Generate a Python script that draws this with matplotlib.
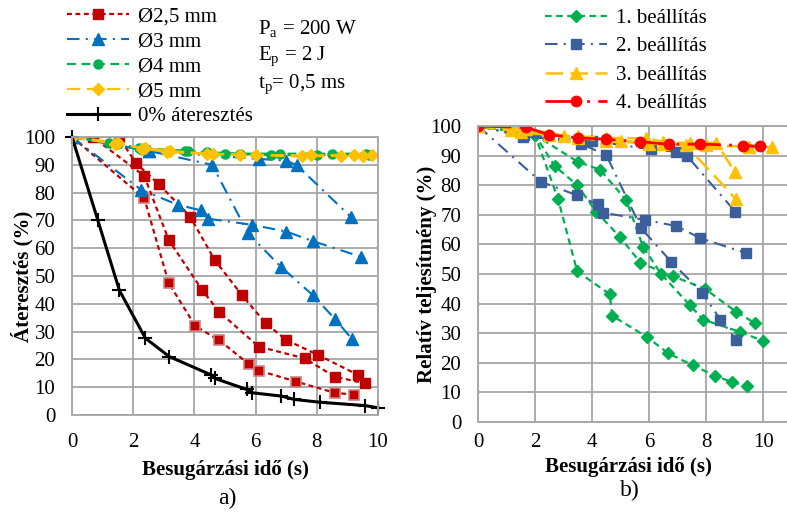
import matplotlib
matplotlib.use("Agg")
import matplotlib.pyplot as plt
from matplotlib.lines import Line2D

plt.rcParams['font.family'] = 'serif'
plt.rcParams['font.serif'] = ['Liberation Serif', 'DejaVu Serif']
plt.rcParams['mathtext.fontset'] = 'custom'
plt.rcParams['mathtext.rm'] = 'Liberation Serif'

# ---- a) left panel data ----
red_a_x = [0, 1.53, 2.09, 2.84, 3.86, 4.66, 5.56, 6.33, 7.0, 8.04, 9.35]
red_a_y = [100, 100, 90.6, 83, 71.4, 55.8, 43, 33, 27, 21.6, 14.4]
red_b_x = [0, 0.68, 2.36, 3.16, 4.25, 4.82, 6.1, 7.6, 8.58, 9.56]
red_b_y = [100, 100, 86, 63, 45, 37, 24.6, 20.4, 13.8, 11.4]
red_c_x = [0, 2.36, 3.16, 4.03, 4.82, 5.77, 6.1, 7.33, 8.58, 9.23]
red_c_y = [100, 78, 47.5, 32, 26.8, 18.4, 16, 12, 8, 7.3]

blue_a_x = [0, 2.26, 3.46, 4.22, 4.46, 5.89, 7.0, 7.88, 9.45]
blue_a_y = [100, 81, 75.6, 73.6, 70.6, 68.4, 66, 62.5, 56.9]
blue_b_x = [0, 2.5, 4.58, 5.75, 6.82, 7.88, 8.58, 9.16]
blue_b_y = [100, 95, 90, 65.4, 53.4, 43, 34.7, 27.2]
blue_c_x = [0, 2.5, 6.1, 7.0, 7.35, 9.13]
blue_c_y = [100, 95, 92.1, 91.5, 89.8, 71.1]

green_a_x = [0, 1.2, 2.3, 3.7, 4.4, 5.5, 6.8, 8.5, 9.6]
green_a_y = [100, 98, 95.5, 95, 94.5, 94, 94, 94, 94]
green_b_x = [0, 1.5, 2.2, 3.8, 5.0, 6.5, 8.0, 9.7]
green_b_y = [100, 97.5, 96, 95, 94, 93.5, 93.5, 93.5]

yellow_a_x = [0, 1.5, 2.3, 3.1, 4.6, 5.5, 7.8, 9.2, 9.8]
yellow_a_y = [100, 98, 95.8, 94.6, 93.8, 93.6, 93.4, 93.6, 93.4]
yellow_b_x = [0, 1.4, 2.4, 3.2, 4.4, 6.0, 7.5, 8.8, 9.5]
yellow_b_y = [100, 97.5, 96, 95, 94, 93.5, 93, 93.3, 93.0]

black_x = [0, 0.84, 1.55, 2.4, 3.18, 4.55, 4.66, 5.71, 5.89, 6.84, 7.27, 8.09, 9.56, 10.0]
black_y = [100, 70.2, 44.8, 27.6, 21, 14.4, 13.2, 9.2, 8, 6.8, 5.6, 4.6, 3.4, 2.6]

# ---- b) right panel data ----
g1_x = [0, 2.0, 2.81, 3.48, 4.62, 4.71, 5.93, 6.66, 7.54, 8.3, 8.9, 9.45]
g1_y = [100, 97, 75.3, 50.9, 43.2, 35.9, 28.7, 23.3, 19.1, 15.7, 13.5, 12.1]
g2_x = [0, 2.0, 2.69, 3.48, 4.15, 4.97, 5.7, 6.84, 7.95, 9.06, 9.7]
g2_y = [100, 97, 86.5, 80, 71, 62.6, 53.8, 49.2, 45.1, 37.2, 33.5]
g3_x = [0, 2.0, 3.5, 4.27, 5.2, 5.79, 6.43, 7.43, 7.9, 9.2, 10.0]
g3_y = [100, 97, 87.9, 85.3, 75, 59.2, 49.9, 39.5, 34.6, 30.4, 27.4]

s1_x = [0, 2.2, 3.47, 4.2, 4.4, 5.85, 6.96, 7.8, 9.4]
s1_y = [100, 81.2, 76.6, 73.5, 70.7, 68.3, 66.2, 62.1, 57.1]
s2_x = [0, 1.6, 3.63, 4.5, 5.73, 6.78, 7.87, 8.5, 9.06]
s2_y = [100, 97, 93.9, 90.2, 65.4, 54.1, 43.6, 34.6, 27.8]
s3_x = [0, 1.58, 4.0, 6.08, 6.96, 7.33, 9.03]
s3_y = [100, 96.4, 95, 92.1, 91.3, 89.9, 71]

y1_x = [0, 1.17, 2.5, 3.5, 4.5, 5.9, 6.5, 7.43, 8.36, 9.0]
y1_y = [100, 98.5, 97, 96.5, 96, 95.8, 94.7, 94.1, 94.4, 84.6]
y2_x = [0, 1.5, 3.0, 4.5, 6.0, 7.3, 9.06]
y2_y = [100, 98, 96.5, 95, 94, 93.5, 75.2]
y3_x = [0, 1.7, 3.5, 5.0, 6.5, 8.0, 9.5, 10.3]
y3_y = [100, 99, 96, 95, 94, 93.5, 93, 92.9]

r4_x = [0, 1.7, 2.5, 3.5, 4.5, 5.7, 6.7, 7.8, 9.3, 9.9]
r4_y = [100, 99.5, 97, 96, 95.5, 94.7, 93.8, 93.9, 93.4, 93.1]

left_labels = ['Ø2,5 mm', 'Ø3 mm', 'Ø4 mm', 'Ø5 mm', '0% áteresztés']
right_labels = ['1. beállítás', '2. beállítás', '3. beállítás', '4. beállítás']

GRID = '#A6A6A6'
FS = 15


def style_axes(ax, xmax, ylabel):
    ax.set_xlim(0, xmax)
    ax.set_ylim(0, 100)
    ax.set_xticks([0, 2, 4, 6, 8, 10])
    ax.set_yticks(range(0, 101, 10))
    ax.grid(True, color=GRID, linewidth=1.3)
    ax.set_axisbelow(True)
    for s in ax.spines.values():
        s.set_color(GRID)
        s.set_linewidth(1.3)
    ax.tick_params(length=0, labelsize=FS)
    ax.tick_params(axis='y', pad=12)
    ax.set_ylabel(ylabel, fontsize=FS, fontweight='bold')


fig = plt.figure(figsize=(7.87, 5.19), dpi=100)

# ---------- a) ----------
ax1 = fig.add_axes([72 / 787, 1 - 415 / 519, 306 / 787, 278 / 519])
style_axes(ax1, 10, 'Áteresztés (%)')
ax1.tick_params(axis='x', pad=13)
ax1.set_xlabel('Besugárzási idő (s)', fontsize=FS, fontweight='bold')
ax1.xaxis.set_label_coords(0.5, (415 - 470) / 278)
ax1.yaxis.set_label_coords((22 - 72) / 306, 0.5)
for lab in (ax1.xaxis.label, ax1.yaxis.label):
    lab.set_va('center')

red = '#C00000'
blue = '#0070C0'
green = '#00B050'
yellow = '#FFC000'

rkw = dict(color=red, lw=1.6, dashes=(2.2, 1.6), marker='s', ms=7, mfc=red, mec=red)
for xs, ys in [(red_a_x, red_a_y), (red_b_x, red_b_y)]:
    ax1.plot(xs, ys, **rkw)
ax1.plot(red_c_x, red_c_y, color=red, lw=1.6, dashes=(2.2, 1.6), marker='s', ms=7,
         mfc='#C00000', mec='#D08080', mew=1.2)

bkw = dict(color=blue, lw=1.5, dashes=(6, 3, 1, 3), marker='^', ms=8, mfc=blue, mec=blue)
for xs, ys in [(blue_a_x, blue_a_y), (blue_b_x, blue_b_y), (blue_c_x, blue_c_y)]:
    ax1.plot(xs, ys, **bkw)

gkw = dict(color=green, lw=1.6, dashes=(4, 2.5), marker='o', ms=6.5, mfc=green, mec=green)
for xs, ys in [(green_a_x, green_a_y), (green_b_x, green_b_y)]:
    ax1.plot(xs, ys, **gkw)

ykw = dict(color=yellow, lw=1.6, dashes=(6, 3), marker='D', ms=6, mfc=yellow, mec=yellow)
for xs, ys in [(yellow_a_x, yellow_a_y), (yellow_b_x, yellow_b_y)]:
    ax1.plot(xs, ys, **ykw)

ax1.plot(black_x, black_y, color='black', lw=2.2, marker='+', ms=10, mew=1.5, clip_on=False)

left_handles = [
    Line2D([], [], color=red, lw=1.6, dashes=(2.2, 1.6), marker='s', ms=7),
    Line2D([], [], color=blue, lw=1.5, dashes=(6, 3, 1, 3), marker='^', ms=8),
    Line2D([], [], color=green, lw=1.6, dashes=(4, 2.5), marker='o', ms=6.5),
    Line2D([], [], color=yellow, lw=1.6, dashes=(6, 3), marker='D', ms=6),
    Line2D([], [], color='black', lw=2.2, marker='+', ms=10, mew=1.5),
]
fig.legend(left_handles, left_labels, loc='upper left', bbox_to_anchor=(52 / 787, 1 + 8 / 519),
           frameon=False, fontsize=FS, handlelength=3.0, handletextpad=0.45,
           labelspacing=0.26, borderpad=0.2)

fig.text(258 / 787, 1 - 29 / 519, 'P$_{\\mathrm{a}}$ = 200 W', fontsize=FS, va='center')
fig.text(258 / 787, 1 - 57 / 519, 'E$_{\\mathrm{p}}$ = 2 J', fontsize=FS, va='center')
fig.text(258 / 787, 1 - 85 / 519, 't$_{\\mathrm{p}}$= 0,5 ms', fontsize=FS, va='center')
fig.text(227 / 787, 1 - 498 / 519, 'a)', fontsize=17, ha='center', va='center')

# ---------- b) ----------
ax2 = fig.add_axes([478 / 787, 1 - 422 / 519, 309 / 787, 296 / 519])
style_axes(ax2, 10.84, 'Relatív teljesítmény (%)')
ax2.tick_params(axis='x', pad=8)
ax2.set_xlabel('Besugárzási idő (s)', fontsize=FS, fontweight='bold')
ax2.xaxis.set_label_coords((628 - 478) / 309, (422 - 467) / 296)
ax2.yaxis.set_label_coords((427 - 478) / 309, 0.5)
for lab in (ax2.xaxis.label, ax2.yaxis.label):
    lab.set_va('center')
ax2.spines['right'].set_visible(False)

green2 = '#00B050'
blue2 = '#3A5F9A'
yellow2 = '#FFC000'
red2 = '#FF0000'

g2kw = dict(color=green2, lw=1.6, dashes=(3, 2), marker='D', ms=6, mfc=green2, mec=green2)
for xs, ys in [(g1_x, g1_y), (g2_x, g2_y), (g3_x, g3_y)]:
    ax2.plot(xs, ys, **g2kw)

s2kw = dict(color=blue2, lw=1.5, dashes=(6, 3, 1, 3), marker='s', ms=7.5, mfc=blue2, mec=blue2)
for xs, ys in [(s1_x, s1_y), (s2_x, s2_y), (s3_x, s3_y)]:
    ax2.plot(xs, ys, **s2kw)

y2kw = dict(color=yellow2, lw=1.8, dashes=(7, 3), marker='^', ms=9, mfc=yellow2, mec=yellow2)
for xs, ys in [(y1_x, y1_y), (y2_x, y2_y), (y3_x, y3_y)]:
    ax2.plot(xs, ys, **y2kw)

ax2.plot(r4_x, r4_y, color=red2, lw=2.0, dashes=(12, 3, 1, 3), marker='o', ms=7.5,
         mfc=red2, mec=red2)

right_handles = [
    Line2D([], [], color=green2, lw=1.6, dashes=(3, 2), marker='D', ms=6),
    Line2D([], [], color=blue2, lw=1.5, dashes=(6, 3, 1, 3), marker='s', ms=7.5),
    Line2D([], [], color=yellow2, lw=1.8, dashes=(7, 3), marker='^', ms=9),
    Line2D([], [], color=red2, lw=2.0, dashes=(12, 3, 1, 3), marker='o', ms=7.5),
]
fig.legend(right_handles, right_labels, loc='upper left', bbox_to_anchor=(530 / 787, 1 + 6 / 519),
           frameon=False, fontsize=FS, handlelength=3.0, handletextpad=0.45,
           labelspacing=0.42, borderpad=0.2)

fig.text(630 / 787, 1 - 490 / 519, 'b)', fontsize=17, ha='center', va='center')

fig.savefig('out.png', dpi=100)
